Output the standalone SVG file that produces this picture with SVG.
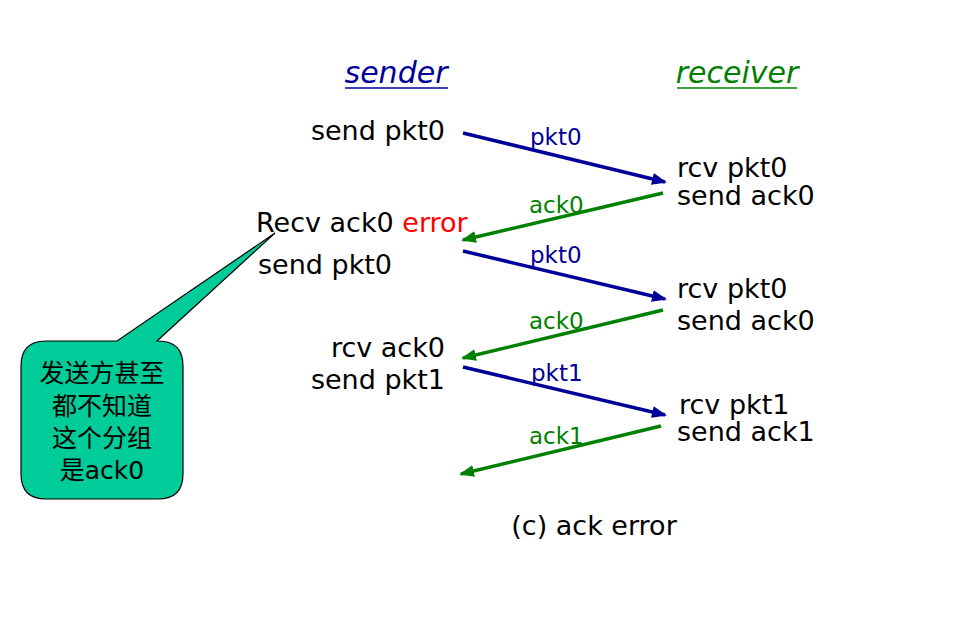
<svg xmlns="http://www.w3.org/2000/svg" width="980" height="642" viewBox="0 0 980 642">
<style>
.t{font-family:"DejaVu Sans","Liberation Sans",sans-serif;font-size:27px;fill:#000}
.h{font-family:"DejaVu Sans","Liberation Sans",sans-serif;font-size:30px;font-style:italic;text-anchor:middle}
.lb{font-family:"DejaVu Sans","Liberation Sans",sans-serif;font-size:23px}
.blue{fill:#000099}
.green{fill:#008000}
.bl{stroke:#000099;stroke-width:3.5;fill:none;marker-end:url(#ab)}
.gl{stroke:#008000;stroke-width:3.5;fill:none;marker-end:url(#ag)}
.cj{font-family:"Noto Sans CJK SC",sans-serif;font-size:25px;text-anchor:middle;fill:#000}
</style>
<defs>
<marker id="ab" markerUnits="userSpaceOnUse" markerWidth="16" markerHeight="12" refX="13" refY="6" orient="auto"><path d="M0,0 L15,6 L0,12 z" fill="#000099"/></marker>
<marker id="ag" markerUnits="userSpaceOnUse" markerWidth="16" markerHeight="12" refX="13" refY="6" orient="auto"><path d="M0,0 L15,6 L0,12 z" fill="#008000"/></marker>
</defs>
<rect width="980" height="642" fill="#fff"/>
<g id="sender-head">
<text class="h blue" x="396" y="83">sender</text>
<line x1="345" y1="88" x2="448" y2="88" stroke="#000099" stroke-width="1.5"/>
</g>
<g id="receiver-head">
<text class="h green" x="737" y="83">receiver</text>
<line x1="677" y1="88" x2="797" y2="88" stroke="#008000" stroke-width="1.5"/>
</g>
<g id="sender-events">
<text class="t" x="445" y="140" text-anchor="end">send pkt0</text>
<text class="t" x="256" y="232">Recv ack0 <tspan fill="#ff0000">error</tspan></text>
<text class="t" x="258" y="274">send pkt0</text>
<text class="t" x="445" y="357" text-anchor="end">rcv ack0</text>
<text class="t" x="445" y="389" text-anchor="end">send pkt1</text>
</g>
<g id="receiver-events">
<text class="t" x="677" y="177">rcv pkt0</text>
<text class="t" x="677" y="205">send ack0</text>
<text class="t" x="677" y="298">rcv pkt0</text>
<text class="t" x="677" y="330">send ack0</text>
<text class="t" x="679" y="414">rcv pkt1</text>
<text class="t" x="677" y="441">send ack1</text>
</g>
<g id="connectors">
<line class="bl" x1="463" y1="133" x2="665" y2="182"/>
<line class="gl" x1="663" y1="193" x2="463" y2="240"/>
<line class="bl" x1="463" y1="251" x2="665" y2="299"/>
<line class="gl" x1="663" y1="310" x2="463" y2="358"/>
<line class="bl" x1="463" y1="367" x2="665" y2="415"/>
<line class="gl" x1="661" y1="426" x2="461" y2="474"/>
<text class="lb blue" x="530" y="145">pkt0</text>
<text class="lb green" x="529" y="213">ack0</text>
<text class="lb blue" x="530" y="263">pkt0</text>
<text class="lb green" x="529" y="329">ack0</text>
<text class="lb blue" x="531" y="381">pkt1</text>
<text class="lb green" x="529" y="444">ack1</text>
</g>
<g id="callout">
<path d="M46,341 L117,341 L275,233 L157,341 L158,341 Q183,341 183,366 L183,474 Q183,499 158,499 L46,499 Q21,499 21,474 L21,366 Q21,341 46,341 Z" fill="#00cc99" stroke="#000" stroke-width="1.2"/>
<text class="cj" x="102" y="382">发送方甚至</text>
<text class="cj" x="102" y="415">都不知道</text>
<text class="cj" x="102" y="447">这个分组</text>
<text class="cj" x="102" y="479">是<tspan font-family="DejaVu Sans, sans-serif">ack0</tspan></text>
</g>
<g id="caption">
<text class="t" x="594" y="535" text-anchor="middle" font-size="28">(c) ack error</text>
</g>
</svg>
